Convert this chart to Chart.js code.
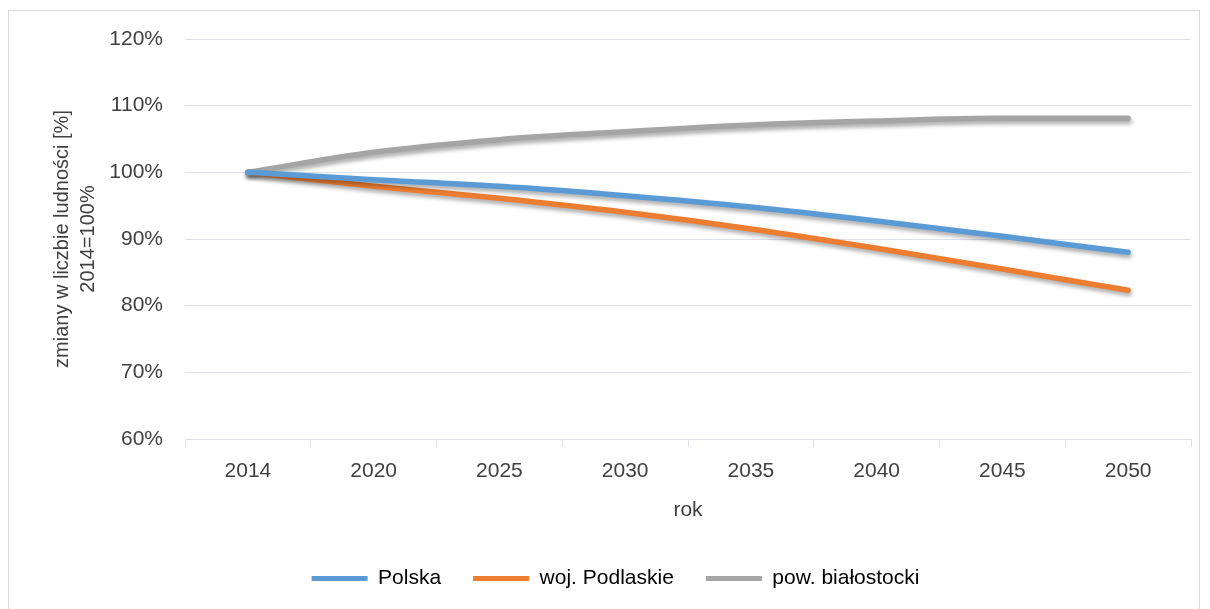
<!DOCTYPE html>
<html>
<head>
<meta charset="utf-8">
<script src="https://cdn.jsdelivr.net/npm/chart.js@4/dist/chart.umd.min.js"></script>
<style>
  html, body { margin: 0; padding: 0; background: #fff; }
  #frame { position: absolute; left: 8px; top: 10px; width: 1192px; height: 620px; border: 1px solid #d9d9d9; box-sizing: border-box; }
  #wrap { position: absolute; left: 0; top: 0; width: 1210px; height: 609px; }
</style>
</head>
<body>
<div id="frame"></div>
<div id="wrap"><canvas id="chart"></canvas></div>
<script>
const years = ["2014", "2020", "2025", "2030", "2035", "2040", "2045", "2050"];
const polska = [100, 98.9, 97.9, 96.5, 94.8, 92.7, 90.4, 88.0];
const podlaskie = [100, 97.9, 96.1, 94.0, 91.5, 88.6, 85.5, 82.3];
const bialostocki = [100, 103.0, 104.9, 106.1, 107.1, 107.7, 108.1, 108.1];
const yTicks = [60, 70, 80, 90, 100, 110, 120];

const textColor = "#404040";
const gridColor = "#dde1e8";
const font = { family: "'Liberation Sans', Arial, sans-serif", size: 21 };

// soft drop shadow under the lines, like the Excel original
const lineShadow = {
  id: "lineShadow",
  beforeDatasetsDraw(chart) {
    const ctx = chart.ctx;
    ctx.save();
    ctx.shadowColor = "rgba(0,0,0,0.35)";
    ctx.shadowBlur = 4;
    ctx.shadowOffsetX = 1;
    ctx.shadowOffsetY = 3;
  },
  afterDatasetsDraw(chart) {
    chart.ctx.restore();
  },
};

const line = (label, data, color) => ({
  label: label,
  data: data,
  borderColor: color,
  backgroundColor: color,
  borderWidth: 5.5,
  borderCapStyle: "round",
  pointRadius: 0,
  cubicInterpolationMode: "monotone",
  fill: false,
});

new Chart(document.getElementById("chart"), {
  type: "line",
  data: {
    labels: years,
    datasets: [
      line("Polska", polska, "#5b9bd5"),
      line("woj. Podlaskie", podlaskie, "#ed7d31"),
      line("pow. białostocki", bialostocki, "#a5a5a5"),
    ],
  },
  plugins: [lineShadow],
  options: {
    responsive: true,
    maintainAspectRatio: false,
    animation: false,
    layout: {
      padding: { left: 40, right: 19, top: 39, bottom: 10 },
    },
    plugins: {
      tooltip: { enabled: false },
      legend: {
        position: "bottom",
        labels: {
          color: textColor,
          font: font,
          boxWidth: 56,
          boxHeight: 5,
          padding: 32,
          generateLabels: (chart) =>
            chart.data.datasets.map((ds, i) => ({
              text: ds.label,
              fillStyle: ds.borderColor,
              strokeStyle: ds.borderColor,
              lineWidth: 0,
              datasetIndex: i,
              hidden: false,
            })),
        },
      },
    },
    scales: {
      x: {
        type: "category",
        offset: true,
        afterFit: (s) => { s.height = 97; },
        grid: {
          offset: true,
          drawOnChartArea: false,
          tickLength: 8,
          color: gridColor,
        },
        border: { color: gridColor },
        ticks: { color: textColor, font: font, padding: 12 },
        title: {
          display: true,
          text: "rok",
          color: textColor,
          font: font,
          padding: { top: 0, bottom: 13 },
        },
      },
      y: {
        min: 60,
        max: 120,
        afterFit: (s) => { s.width = 145; },
        afterBuildTicks: (s) => { s.ticks = yTicks.map((v) => ({ value: v })); },
        grid: { color: gridColor, drawTicks: false },
        border: { display: false },
        ticks: {
          color: textColor,
          font: font,
          padding: 22,
          callback: (v) => v + "%",
        },
        title: {
          display: true,
          text: ["zmiany w liczbie ludności [%]", "2014=100%"],
          color: textColor,
          font: { family: font.family, size: 20, lineHeight: 1.3 },
          padding: { top: 9, bottom: 0 },
        },
      },
    },
  },
});
</script>
</body>
</html>
